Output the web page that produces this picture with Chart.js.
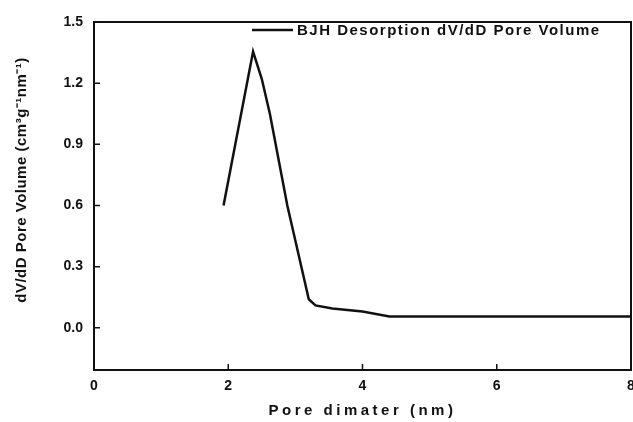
<!DOCTYPE html>
<html>
<head>
<meta charset="utf-8">
<script src="https://cdn.jsdelivr.net/npm/chart.js@4.4.1/dist/chart.umd.min.js"></script>
<style>
  html, body { margin: 0; padding: 0; background: #fff; }
  #wrap { width: 633px; height: 422px; }
</style>
</head>
<body>
<div id="wrap"><canvas id="poreChart"></canvas></div>
<script>
// BJH desorption curve
const poreSize = [1.93, 2.37, 2.5, 2.62, 2.88, 3.2, 3.3, 3.55, 4.0, 4.4, 5, 6, 7, 8];
const poreVolume = [0.60, 1.355, 1.22, 1.05, 0.60, 0.14, 0.11, 0.095, 0.08, 0.055, 0.055, 0.055, 0.055, 0.055];

const xTicks = [0, 2, 4, 6, 8];
const yTicks = [0.0, 0.3, 0.6, 0.9, 1.2, 1.5];

const seriesName = "BJH Desorption dV/dD Pore Volume";
const xTitle = "Pore dimater (nm)";
const yTitle = "dV/dD Pore Volume (cm\u00B3g\u207B\u00B9nm\u207B\u00B9)";

const ink = "#111";

// frame, inward ticks, axis titles and the in-plot legend
const decorations = {
    id: "decorations",
    afterDraw(chart) {
        const { ctx, chartArea: a, scales } = chart;
        ctx.save();
        ctx.strokeStyle = ink;
        ctx.lineWidth = 2;
        ctx.strokeRect(a.left, a.top, a.right - a.left, a.bottom - a.top);

        ctx.lineWidth = 1.5;
        ctx.beginPath();
        yTicks.forEach(v => {
            const y = scales.y.getPixelForValue(v);
            ctx.moveTo(a.left, y);
            ctx.lineTo(a.left + 6, y);
        });
        xTicks.slice(1, -1).forEach(v => {
            const x = scales.x.getPixelForValue(v);
            ctx.moveTo(x, a.bottom);
            ctx.lineTo(x, a.bottom - 6);
        });
        ctx.stroke();

        ctx.fillStyle = ink;
        ctx.font = "bold 15px 'Liberation Sans', Arial, sans-serif";
        ctx.letterSpacing = "3.5px";
        ctx.textAlign = "center";
        ctx.textBaseline = "middle";
        ctx.fillText(xTitle, (a.left + a.right) / 2, 411);

        ctx.letterSpacing = "0.5px";
        ctx.translate(22, (a.top + scales.y.getPixelForValue(-0.05)) / 2);
        ctx.rotate(-Math.PI / 2);
        ctx.fillText(yTitle, 0, 0);
        ctx.setTransform(1, 0, 0, 1, 0, 0);

        // legend
        ctx.lineWidth = 2.5;
        ctx.beginPath();
        ctx.moveTo(252, 30);
        ctx.lineTo(293, 30);
        ctx.stroke();
        ctx.letterSpacing = "1.5px";
        ctx.textAlign = "left";
        ctx.fillText(seriesName, 297, 31);
        ctx.restore();
    }
};

new Chart(document.getElementById("poreChart"), {
    type: "line",
    data: {
        datasets: [{
            label: seriesName,
            data: poreSize.map((x, i) => ({ x: x, y: poreVolume[i] })),
            borderColor: ink,
            borderWidth: 2.5,
            pointRadius: 0,
            fill: false,
            tension: 0
        }]
    },
    options: {
        responsive: true,
        maintainAspectRatio: false,
        animation: false,
        layout: { padding: { top: 22, right: 2, left: 0, bottom: 0 } },
        plugins: {
            legend: { display: false },
            tooltip: { enabled: false }
        },
        scales: {
            x: {
                type: "linear",
                min: 0,
                max: 8,
                afterBuildTicks: s => { s.ticks = xTicks.map(v => ({ value: v })); },
                afterFit: s => { s.height = 52; s.paddingRight = 0; s.paddingLeft = 0; },
                grid: { display: false, drawTicks: false },
                border: { display: false },
                ticks: {
                    padding: 8,
                    color: ink,
                    maxRotation: 0,
                    font: { family: "'Liberation Sans', Arial", size: 14, weight: "bold" }
                }
            },
            y: {
                min: -0.207,
                max: 1.5,
                afterBuildTicks: s => { s.ticks = yTicks.map(v => ({ value: v })); },
                afterFit: s => { s.width = 94; s.paddingTop = 0; s.paddingBottom = 0; },
                grid: { display: false, drawTicks: false },
                border: { display: false },
                ticks: {
                    padding: 11,
                    color: ink,
                    callback: v => v.toFixed(1),
                    font: { family: "'Liberation Sans', Arial", size: 14, weight: "bold" }
                }
            }
        }
    },
    plugins: [decorations]
});
</script>
</body>
</html>
